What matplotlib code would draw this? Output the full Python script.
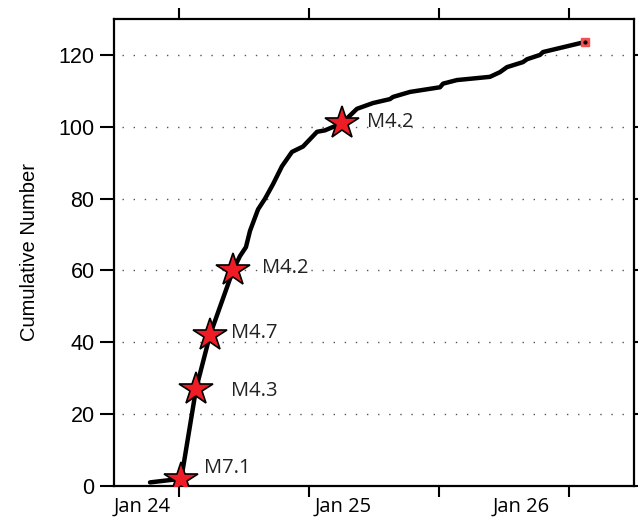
import matplotlib
matplotlib.use('Agg')
import matplotlib.pyplot as plt

# cumulative count of events, time in days from the Jan 24 tick
t_days = [-0.223, 0.015, 0.031, 0.131, 0.238, 0.415, 0.469, 0.515, 0.546, 0.608,
          0.662, 0.723, 0.792, 0.869, 0.954, 1.062, 1.123, 1.254, 1.369, 1.492,
          1.623, 1.646, 1.777, 2.008, 2.031, 2.138, 2.392, 2.469, 2.523, 2.646,
          2.677, 2.777, 2.800, 3.123]
count = [1, 2, 5, 27, 42, 60, 64, 66.5, 71, 77,
         80, 84, 89, 93, 94.5, 98.6, 99, 101, 105, 106.6,
         107.7, 108.3, 109.7, 111, 112, 113, 113.9, 115.2, 116.6, 118,
         118.8, 120, 120.8, 123.6]

# larger events
event_t = [0.015, 0.131, 0.238, 0.415, 1.254]
event_n = [2, 27, 42, 60, 101]
event_mag = ['M7.1', 'M4.3', 'M4.7', 'M4.2', 'M4.2']

day_ticks = [0, 1, 2, 3]
day_label_pos = [-0.285, 1.26, 2.63]
day_labels = ['Jan 24', 'Jan 25', 'Jan 26']
y_ticks = [0, 20, 40, 60, 80, 100, 120]

label_offsets = [(16.5, 8), (25, -1.5), (15, 1.5), (21, 1.5), (18, 0.5)]

fig = plt.figure(figsize=(6.38, 5.22), dpi=100)
ax = fig.add_axes([0.1787, 0.069, 0.815, 0.8946])

for v in y_ticks[1:]:
    ax.axhline(v, xmin=0.015, xmax=0.99, color='#555555', linewidth=1,
               linestyle=(0, (1, 7)), zorder=1)

ax.plot(t_days, count, color='black', linewidth=3.2, solid_capstyle='round',
        solid_joinstyle='round', zorder=3)
ax.plot(event_t, event_n, linestyle='none', marker='*', markersize=25,
        markerfacecolor='#ee1c25', markeredgecolor='black', markeredgewidth=1.2, zorder=4)
ax.plot(t_days[-1], count[-1], marker='s', markersize=6, color='#f25050', zorder=4)
ax.plot(t_days[-1], count[-1], marker='o', markersize=2, color='black', zorder=5)

for t, n, m, off in zip(event_t, event_n, event_mag, label_offsets):
    ax.annotate(m, (t, n), xytext=off, textcoords='offset points',
                ha='left', va='center', fontsize=14.5, family='Open Sans', color='#222222')

ax.set_xlim(-0.5, 3.5)
ax.set_ylim(0, 130)

ax.set_xticks(day_label_pos)
ax.set_xticklabels(day_labels, family='Open Sans', fontsize=14.5)
ax.tick_params(axis='x', which='major', length=0, pad=8)
ax.set_xticks(day_ticks, minor=True)
ax.tick_params(axis='x', which='minor', direction='out', length=8, width=1.5,
               bottom=True, top=True)

ax.set_yticks(y_ticks)
ax.set_yticklabels([str(v) for v in y_ticks], family='Liberation Sans', fontsize=15.5)
ax.tick_params(axis='y', direction='out', length=10, width=1.5, left=True, right=True, pad=4)

ax.set_ylabel('Cumulative Number', family='Liberation Sans', fontsize=14.5, labelpad=14)

for s in ax.spines.values():
    s.set_linewidth(1.6)

fig.savefig('out.png', dpi=100)
